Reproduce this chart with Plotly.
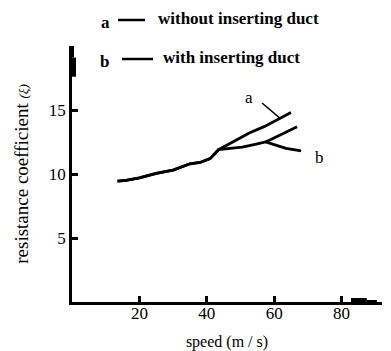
import plotly.graph_objects as go

# shared low-speed part (both curves coincide)
shared_x = [13.5, 16, 20, 25, 30, 35, 38, 41, 43.5]
shared_y = [9.45, 9.5, 9.7, 10.05, 10.3, 10.8, 10.9, 11.2, 11.9]

# curve a: without inserting duct
a_x = [47.6, 52.6, 57, 61.5, 65]
a_y = [12.5, 13.2, 13.7, 14.3, 14.8]

# curve b: with inserting duct
b_x = [47, 50.5, 54, 57.5, 60, 63.5, 68]
b_y = [12.0, 12.1, 12.3, 12.5, 12.3, 12.0, 11.8]

# extra branch
c_x = [57.5, 62, 66.8]
c_y = [12.5, 13.1, 13.7]

x_ticks = [20, 40, 60, 80]
y_ticks = [5, 10, 15]

FONT = "Liberation Serif"
line_style = dict(color="black", width=2.8)

fig = go.Figure()
fig.add_trace(go.Scatter(x=shared_x + a_x, y=shared_y + a_y, mode="lines", line=line_style,
                         showlegend=False, hoverinfo="skip"))
fig.add_trace(go.Scatter(x=shared_x + b_x, y=shared_y + b_y, mode="lines", line=line_style,
                         showlegend=False, hoverinfo="skip"))
fig.add_trace(go.Scatter(x=c_x, y=c_y, mode="lines", line=line_style,
                         showlegend=False, hoverinfo="skip"))

axis_common = dict(showgrid=False, zeroline=False, showline=True, linecolor="black",
                   linewidth=2.5, ticks="inside", ticklen=6, tickwidth=2.5, tickcolor="black",
                   tickfont=dict(family=FONT, size=17, color="black"), automargin=False)

fig.update_xaxes(range=[0, 92], tickvals=x_ticks, ticktext=[str(v) for v in x_ticks],
                 ticklabelstandoff=-6,
                 title=dict(text="speed (m / s)", font=dict(family=FONT, size=16, color="black"),
                            standoff=15), **axis_common)
fig.update_yaxes(range=[0, 20], tickvals=y_ticks, ticktext=[str(v) for v in y_ticks],
                 title=dict(text="resistance coefficient <i><span style='font-size:13px'>(ξ)</span></i>",
                            font=dict(family=FONT, size=19, color="black"), standoff=16),
                 **axis_common)

# axis-end decorations (thick marks at axis ends)
fig.add_shape(type="line", xref="x", yref="y", x0=0, x1=0, y0=17.6, y1=19.1,
              line=dict(color="black", width=8))
fig.add_shape(type="line", xref="x", yref="y", x0=0, x1=0, y0=19.1, y1=20.2,
              line=dict(color="black", width=4))
fig.add_shape(type="line", xref="x", yref="y", x0=82.8, x1=87.5, y0=0, y1=0,
              line=dict(color="black", width=8))
fig.add_shape(type="line", xref="x", yref="y", x0=87.5, x1=90.5, y0=0, y1=0,
              line=dict(color="black", width=4))

# curve labels
fig.add_annotation(x=52.5, y=16.0, xref="x", yref="y", text="a", showarrow=False,
                   font=dict(family=FONT, size=17, color="black"))
fig.add_shape(type="line", xref="x", yref="y", x0=56.4, y0=15.55, x1=61.5, y1=14.4,
              line=dict(color="black", width=1.5))
fig.add_annotation(x=73.5, y=11.3, xref="x", yref="y", text="b", showarrow=False,
                   font=dict(family=FONT, size=17, color="black"))

fig.update_layout(
    width=391, height=351,
    margin=dict(l=72, r=9, t=46, b=49),
    plot_bgcolor="white", paper_bgcolor="white",
    showlegend=False,
)

# legend entries in pixel-based paper coords
W, H = 391, 351
L, R, T, B = 72, 9, 46, 49
pw, ph = W - L - R, H - T - B
def px(xp):
    return (xp - L) / pw
def py(yp):
    return (H - B - yp) / ph

leg_font = dict(family=FONT, size=17, color="black")
for lab, lx, ly, x0, x1, txt, tx in [
    ("a", 105, 22, 118, 145, "without inserting duct", 156),
    ("b", 104, 61, 122, 153, "with inserting duct", 161),
]:
    fig.add_annotation(x=px(lx), y=py(ly), xref="paper", yref="paper", text="<b>" + lab + "</b>",
                       showarrow=False, font=leg_font, xanchor="center", yanchor="middle")
    fig.add_shape(type="line", xref="paper", yref="paper", x0=px(x0), x1=px(x1),
                  y0=py(ly - 2), y1=py(ly - 2), line=dict(color="black", width=2.5))
    fig.add_annotation(x=px(tx), y=py(ly - 4), xref="paper", yref="paper", text="<b>" + txt + "</b>",
                       showarrow=False, font=leg_font, xanchor="left", yanchor="middle")

fig.write_html("out.html")
